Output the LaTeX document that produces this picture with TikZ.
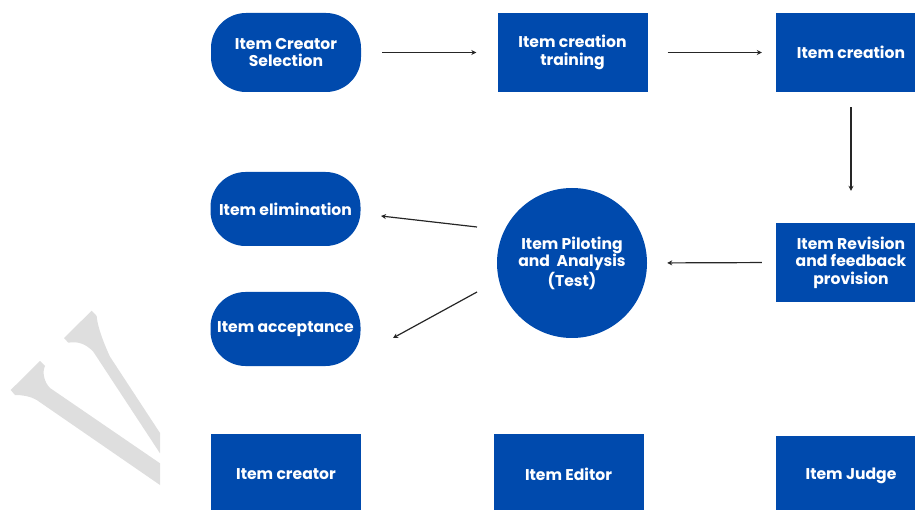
\documentclass[tikz,border=0pt]{standalone}
\usepackage{fontspec}
\setmainfont{Poppins}
\usetikzlibrary{arrows.meta}
\definecolor{cblue}{HTML}{004AAD}
\definecolor{wm}{HTML}{DEDEDE}
\tikzset{
  box/.style={fill=cblue, minimum width=150pt, minimum height=79pt, inner sep=0pt, text=white, align=center, font=\fontsize{15.6}{17.5}\selectfont\bfseries},
  pill/.style={box, rounded corners=35pt},
  circ/.style={box, circle, minimum size=150pt},
  arr/.style={-{Stealth[length=5pt,width=5pt]}, line width=1.2pt, black!85},
}
\begin{document}
\begin{tikzpicture}[x=1pt,y=-1pt]
\useasboundingbox (0,0) rectangle (915,510);
\clip (0,0) rectangle (915,510);
% watermark
\fill[wm] (64,338) -- (91.7,310.7) -- (96.7,316) .. controls (97,322) and (100,335) .. (110,356.7) -- (160,433) -- (160,453.3) -- (93.3,351.7) .. controls (86,344) and (78,341) .. (68.3,342.7) -- cycle;
\fill[wm] (10.7,390) -- (40,361) -- (45,366) .. controls (42,372) and (44,382) .. (50,388) -- (160,463.3) -- (160,485) -- (36.7,400) .. controls (30,396) and (22,395) .. (15,395) -- cycle;
% nodes
\node[pill] (sel) at (286,52.5) {Item Creator\\Selection};
\node[box] (train) at (572.5,52.5) {Item creation\\training};
\node[box] (create) at (851,52.5) {Item creation};
\node[box] (rev) at (851,262.5) {Item Revision\\and feedback\\provision};
\node[circ] (pilot) at (572,263) {Item Piloting\\and\ \ Analysis\\(Test)};
\node[pill, minimum height=74pt] (elim) at (285.5,209) {Item elimination};
\node[pill, minimum height=74pt] (acc) at (285.5,329) {Item acceptance};
\node[box, minimum height=80pt] (cr) at (286,474) {Item creator};
\node[box, minimum height=80pt] (ed) at (568.5,474) {Item Editor};
\node[box, minimum height=80pt] (judge) at (851,475.5) {Item Judge};
% connectors
\draw[arr, shorten <=21pt, shorten >=21pt] (sel.east) -- (train.west);
\draw[arr, shorten <=20pt, shorten >=14pt] (train.east) -- (create.west);
\draw[arr, shorten <=15pt, shorten >=32pt] (create.south) -- (rev.north);
\draw[arr, shorten <=14pt, shorten >=20pt] (rev.west) -- (pilot.east);
\coordinate (e1) at (477,227);
\coordinate (e2) at (381,216);
\coordinate (a1) at (477,292);
\coordinate (a2) at (393,338);
\draw[arr] (e1) -- (e2);
\draw[arr] (a1) -- (a2);
\end{tikzpicture}
\end{document}
